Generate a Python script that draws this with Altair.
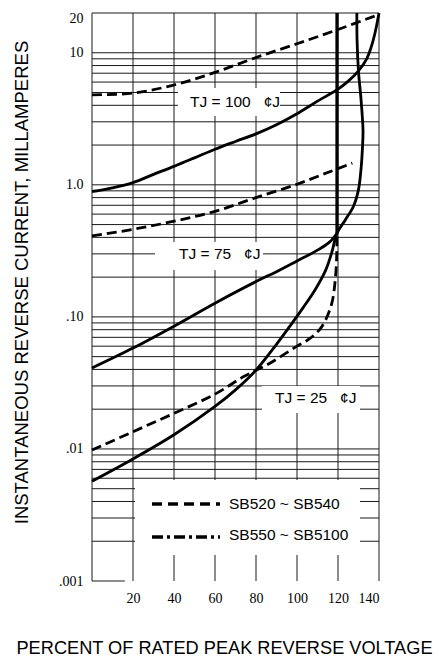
import altair as alt
import pandas as pd

# ---------------- data ----------------
X_TICKS = [20, 40, 60, 80, 100, 120, 140]
Y_TICKS = [0.001, 0.01, 0.1, 1, 10, 20]
Y_TICK_LABELS = [".001", ".01", ".10", "1.0", "10", "20"]

V_GRID = [0, 20, 40, 60, 80, 100, 120, 140]
H_GRID = [0.002, 0.003, 0.004, 0.005, 0.006, 0.007, 0.008, 0.009,
          0.01, 0.02, 0.03, 0.04, 0.05, 0.06, 0.07, 0.08, 0.09,
          0.1, 0.2, 0.3, 0.4, 0.5, 0.6, 0.7, 0.8, 0.9,
          1, 2, 3, 4, 5, 6, 7, 8, 9, 10, 20]
BOTTOM_EDGE_X = [0, 16]
BOTTOM_EDGE_Y = [0.001, 0.001]

# TJ = 100 C
T100_DASH_X = [0, 20, 40, 60, 80, 100, 120, 140]
T100_DASH_Y = [4.8, 4.95, 5.7, 7.1, 9.2, 11.7, 15.0, 19.5]
T100_SOLID_X = [0, 10, 20, 30, 40, 50, 60, 70, 80, 90, 100, 110, 120, 125, 130, 134, 136, 138, 140]
T100_SOLID_Y = [0.89, 0.95, 1.04, 1.2, 1.38, 1.6, 1.86, 2.13, 2.43, 2.85, 3.45, 4.3, 5.3, 6.1, 7.3, 9.0, 10.8, 14, 20]

# TJ = 75 C
T75_DASH_X = [0, 20, 40, 60, 80, 100, 115, 127]
T75_DASH_Y = [0.41, 0.46, 0.53, 0.63, 0.80, 1.01, 1.24, 1.46]
T75_SOLID_X = [0, 20, 40, 60, 80, 90, 100, 110, 116, 119.5]
T75_SOLID_Y = [0.041, 0.058, 0.085, 0.127, 0.185, 0.22, 0.265, 0.32, 0.37, 0.43]

# TJ = 25 C
T25_DASH_X = [0, 20, 40, 60, 74, 85, 92, 100, 106, 111, 114, 117, 118.5, 119.3, 119.5]
T25_DASH_Y = [0.0098, 0.0135, 0.0186, 0.026, 0.0353, 0.043, 0.05, 0.06, 0.068, 0.08, 0.095, 0.127, 0.18, 0.27, 0.43]
T25_SOLID_X = [0, 20, 40, 60, 70, 80, 90, 97, 103, 109, 114, 117, 119.5, 123.5, 127.5, 130, 131.2, 132, 132.2, 131.2, 130, 129.3, 129.2]
T25_SOLID_Y = [0.0057, 0.0084, 0.0128, 0.021, 0.028, 0.0395, 0.062, 0.087, 0.1175, 0.162, 0.226, 0.309, 0.43, 0.54, 0.685, 0.92, 1.3, 2.0, 2.6, 4.5, 7.2, 12.5, 20]

# common vertical rise
VERT_X = [119.5, 119.5]
VERT_Y = [0.43, 20]

NB = "\u00a0"
LABEL_100 = f"TJ = 100{NB}{NB}{NB}\u00a2J"
LABEL_75 = f"TJ = 75{NB}{NB}{NB}\u00a2J"
LABEL_25 = f"TJ = 25{NB}{NB}{NB}\u00a2J"
LEGEND_LABELS = ["SB520 ~ SB540", "SB550 ~ SB5100"]

X_TITLE = "PERCENT OF RATED PEAK REVERSE VOLTAGE"
Y_TITLE = "INSTANTANEOUS REVERSE CURRENT, MILLAMPERES"

# ---------------- build tables ----------------
def series(name, xs, ys):
    return pd.DataFrame({"series": name, "x": xs, "y": ys, "i": range(len(xs))})

solid_df = pd.concat([series("t100s", T100_SOLID_X, T100_SOLID_Y),
                      series("t75s", T75_SOLID_X, T75_SOLID_Y),
                      series("t25s", T25_SOLID_X, T25_SOLID_Y)])
dash_df = pd.concat([series("t100d", T100_DASH_X, T100_DASH_Y),
                     series("t75d", T75_DASH_X, T75_DASH_Y),
                     series("t25d", T25_DASH_X, T25_DASH_Y)])
vert_df = series("vert", VERT_X, VERT_Y)
bottom_df = series("edge", BOTTOM_EDGE_X, BOTTOM_EDGE_Y)
vgrid_df = pd.DataFrame({"x": V_GRID})
hgrid_df = pd.DataFrame({"y": H_GRID})
one = pd.DataFrame({"a": [0]})

label_expr = " : ".join(
    f"datum.value > {v * 0.7} ? '{t}'" for v, t in
    sorted(zip(Y_TICKS, Y_TICK_LABELS), reverse=True)[:-1]
) + f" : '{Y_TICK_LABELS[0]}'"

xscale = alt.Scale(domain=[0, 140], nice=False, zero=False)
yscale = alt.Scale(type="log", domain=[0.001, 20], nice=False)

xaxis = alt.Axis(values=X_TICKS, grid=False, ticks=False, tickSize=0, domain=False,
                 labelFont="Liberation Serif", labelFontSize=14, labelColor="black",
                 labelBaseline="alphabetic", labelPadding=21,
                 title=X_TITLE, titleFont="Liberation Sans", titleFontSize=18.2,
                 titleFontWeight="normal", titleColor="black",
                 titleX=132, titleY=72, titleAlign="center", titleBaseline="alphabetic")
yaxis = alt.Axis(values=Y_TICKS, grid=False, ticks=False, tickSize=0, domain=False,
                 labelExpr=label_expr,
                 labelFont="Liberation Serif", labelFontSize=14, labelColor="black",
                 labelPadding=9, labelAlign="right", labelBaseline="middle",
                 labelOffset={"condition": {"test": "datum.value > 15", "value": 5}, "value": 0},
                 title=Y_TITLE, titleFont="Liberation Sans", titleFontSize=18.5,
                 titleFontWeight="normal", titleColor="black", titleAngle=270,
                 titleX=-65, titleY=269, titleAlign="center", titleBaseline="alphabetic")

X = alt.X("x:Q", scale=xscale, axis=xaxis)
Y = alt.Y("y:Q", scale=yscale, axis=yaxis)

GRID_COLOR = "#1a1a1a"

vgrid = alt.Chart(vgrid_df).mark_rule(color=GRID_COLOR, strokeWidth=1).encode(x=X)
hgrid = alt.Chart(hgrid_df).mark_rule(color=GRID_COLOR, strokeWidth=1).encode(y=Y)
edge = alt.Chart(bottom_df).mark_line(color=GRID_COLOR, strokeWidth=1).encode(x=X, y=Y, order="i:Q")


def box(x1, x2, y1, y2):
    return alt.Chart(one).mark_rect(color="white").encode(
        x=alt.value(x1), x2=alt.value(x2), y=alt.value(y1), y2=alt.value(y2))


boxes = [box(86, 188, 75, 103), box(63, 171, 229, 257),
         box(170, 268, 373, 400), box(43, 268, 467, 542)]

solid = alt.Chart(solid_df).mark_line(color="black", strokeWidth=2.8,
                                      interpolate="catmull-rom").encode(
    x=X, y=Y, detail="series:N", order="i:Q")
dashed = alt.Chart(dash_df).mark_line(color="black", strokeWidth=2.8, strokeDash=[10, 5],
                                      interpolate="catmull-rom").encode(
    x=X, y=Y, detail="series:N", order="i:Q")
vert = alt.Chart(vert_df).mark_line(color="black", strokeWidth=3.2).encode(x=X, y=Y, order="i:Q")


def label(text, x, y):
    return alt.Chart(one).mark_text(text=text, align="left", baseline="middle",
                                    font="Liberation Sans", fontSize=15.5, color="black").encode(
        x=alt.value(x), y=alt.value(y))


labels = [label(LABEL_100, 98, 89), label(LABEL_75, 87, 241), label(LABEL_25, 183, 385),
          label(LEGEND_LABELS[0], 137, 491), label(LEGEND_LABELS[1], 137, 522)]

leg_dash = alt.Chart(one).mark_rule(color="black", strokeWidth=3.5, strokeDash=[10, 6]).encode(
    x=alt.value(60), x2=alt.value(128), y=alt.value(491))
leg_dashdot = alt.Chart(one).mark_rule(color="black", strokeWidth=3.5, strokeDash=[11, 4, 3, 4]).encode(
    x=alt.value(60), x2=alt.value(128), y=alt.value(524))

chart = alt.layer(
    vgrid, hgrid, edge, *boxes, dashed, solid, vert, leg_dash, leg_dashdot, *labels
).properties(
    width=287, height=568,
    autosize=alt.AutoSizeParams(type="none"),
    padding={"left": 84, "top": 5, "right": 56, "bottom": 82},
).configure_view(stroke=None)

chart.save("out.html", embed_options={"renderer": "svg", "actions": False})
